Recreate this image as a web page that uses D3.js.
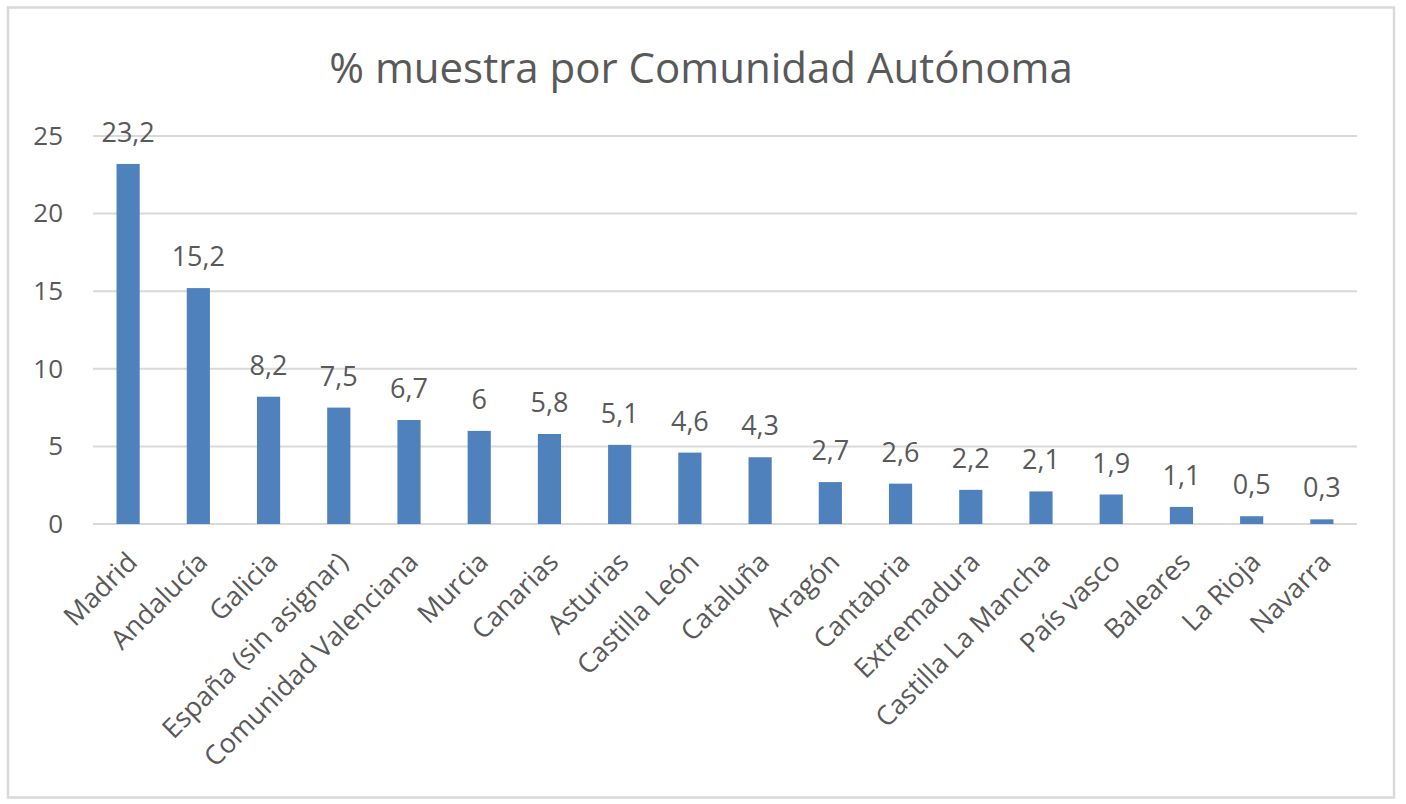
<!DOCTYPE html>
<html><head><meta charset="utf-8">
<script src="https://cdn.jsdelivr.net/npm/d3@7"></script>
<style>
html,body{margin:0;padding:0;background:#fff;}
svg text{font-family:"Open Sans",sans-serif;fill:#595959;}
</style></head>
<body>
<svg id="c" width="1406" height="804"></svg>
<script>
const categories = ["Madrid","Andalucía","Galicia","España (sin asignar)","Comunidad Valenciana","Murcia","Canarias","Asturias","Castilla León","Cataluña","Aragón","Cantabria","Extremadura","Castilla La Mancha","País vasco","Baleares","La Rioja","Navarra"];
const values = [23.2,15.2,8.2,7.5,6.7,6,5.8,5.1,4.6,4.3,2.7,2.6,2.2,2.1,1.9,1.1,0.5,0.3];
const yTicks = [0,5,10,15,20,25];
const title = "% muestra por Comunidad Autónoma";

const svg = d3.select("#c");
svg.append("rect").attr("x",8).attr("y",7.5).attr("width",1386).attr("height",790)
  .attr("fill","#fff").attr("stroke","#d9d9d9").attr("stroke-width",2.5);

const x = d3.scaleBand().domain(categories).range([93,1357]).paddingInner(0.67).paddingOuter(0.335);
const y = d3.scaleLinear().domain([0,25]).range([524,136]);
const fmt = v => String(v).replace(".", ",");

// gridlines
svg.append("g").selectAll("line").data(yTicks).join("line")
  .attr("x1",93).attr("x2",1357).attr("y1",d=>y(d)).attr("y2",d=>y(d))
  .attr("stroke","#d9d9d9").attr("stroke-width",2);

// y axis labels
const yAxis = svg.append("g").attr("transform","translate(93,0)")
  .call(d3.axisLeft(y).tickValues(yTicks).tickSize(0).tickPadding(30).tickFormat(d=>d));
yAxis.select(".domain").remove();
yAxis.selectAll("text").style("font-size","26px").style("fill","#595959").style("font-family","'Open Sans',sans-serif");

// bars
svg.append("g").selectAll("rect").data(values).join("rect")
  .attr("x",(d,i)=>x(categories[i])).attr("width",x.bandwidth())
  .attr("y",d=>y(d)).attr("height",d=>y(0)-y(d)).attr("fill","#4f81bd");

// data labels
svg.append("g").selectAll("text").data(values).join("text")
  .attr("x",(d,i)=>x(categories[i])+x.bandwidth()/2).attr("y",d=>y(d)-22)
  .attr("text-anchor","middle").style("font-size","27px").text(d=>fmt(d));

// x labels
svg.append("g").selectAll("text").data(categories).join("text")
  .attr("transform",d=>`translate(${x(d)+x.bandwidth()/2-3},550) rotate(-45)`)
  .attr("text-anchor","end").attr("dy","0.72em").style("font-size","27px").text(d=>d);

// title
svg.append("text").attr("x",701).attr("y",83).attr("text-anchor","middle")
  .style("font-size","42px").text(title);
</script>
</body></html>
